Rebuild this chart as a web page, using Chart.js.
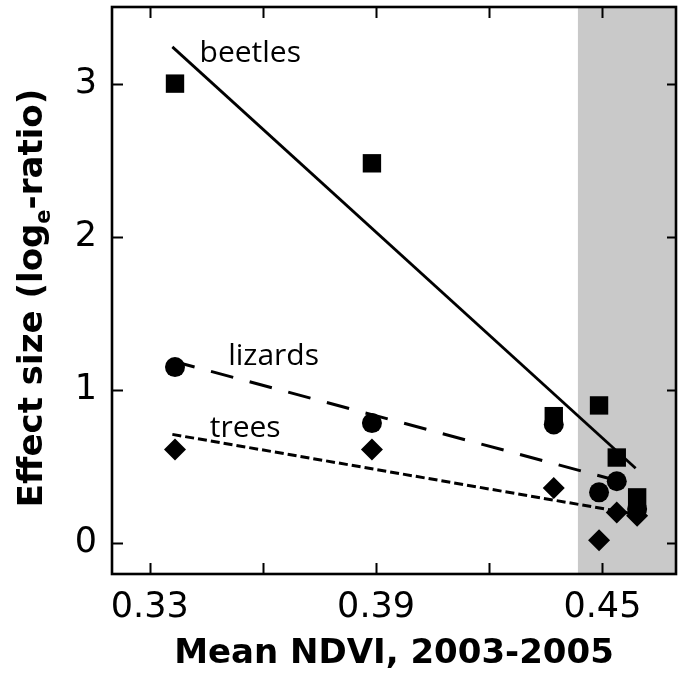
<!DOCTYPE html>
<html><head><meta charset="utf-8">
<script src="https://cdn.jsdelivr.net/npm/chart.js@4.4.1/dist/chart.umd.min.js"></script>
<style>html,body{margin:0;padding:0;background:#fff;}#wrap{width:682px;height:675px;}</style>
</head><body><div id="wrap"><canvas id="c" width="682" height="675"></canvas></div>
<script>
// ---- data ----
const ndvi = [0.3367, 0.3889, 0.4371, 0.4491, 0.4538, 0.4592];
const beetles = [3.00, 2.48, 0.83, 0.90, 0.56, 0.30];
const lizards = [1.15, 0.785, 0.776, 0.333, 0.405, 0.224];
const trees = [0.613, 0.613, 0.362, 0.021, 0.202, 0.18];
const fitX = [0.336, 0.4588];
const beetlesFit = [3.24, 0.49];
const lizardsFit = [1.19, 0.377];
const treesFit = [0.711, 0.19];
const xTicks = [0.33, 0.36, 0.39, 0.42, 0.45];
const xTickLabels = ['0.33', '', '0.39', '', '0.45'];
const yTicks = [0, 1, 2, 3];
const yTickLabels = ['0', '1', '2', '3'];
const shadeFrom = 0.4435;
const taxa = ['beetles', 'lizards', 'trees'];

const pts = (xs, ys) => xs.map((x, i) => ({x: x, y: ys[i]}));
const TICKFONT = 'DejaVu Sans';

const deco = {
  id: 'deco',
  beforeDatasetsDraw(chart) {
    const {ctx, chartArea: a, scales: {x}} = chart;
    ctx.save();
    ctx.fillStyle = '#c9c9c9';
    const px = x.getPixelForValue(shadeFrom);
    ctx.fillRect(px, a.top, a.right - px, a.bottom - a.top);
    ctx.restore();
  },
  afterDatasetsDraw(chart) {
    const {ctx, chartArea: a, scales: {x, y}} = chart;
    ctx.save();
    ctx.strokeStyle = '#000';
    ctx.lineWidth = 2;
    ctx.beginPath();
    xTicks.forEach(v => {
      const p = Math.round(x.getPixelForValue(v)) + 0.5;
      ctx.moveTo(p, a.bottom); ctx.lineTo(p, a.bottom - 11);
      ctx.moveTo(p, a.top); ctx.lineTo(p, a.top + 11);
    });
    yTicks.forEach(v => {
      const p = Math.round(y.getPixelForValue(v)) + 0.5;
      ctx.moveTo(a.left, p); ctx.lineTo(a.left + 11, p);
      ctx.moveTo(a.right, p); ctx.lineTo(a.right - 9, p);
    });
    ctx.stroke();
    ctx.lineWidth = 2.6;
    ctx.strokeRect(a.left, a.top, a.right - a.left, a.bottom - a.top);
    // taxon labels
    ctx.fillStyle = '#000';
    ctx.font = '30px "Open Sans"';
    ctx.textBaseline = 'alphabetic';
    ctx.textAlign = 'left';
    const lab = [[taxa[0], 0.3432, 3.142], [taxa[1], 0.3508, 1.163], [taxa[2], 0.3459, 0.693]];
    lab.forEach(l => ctx.fillText(l[0], x.getPixelForValue(l[1]), y.getPixelForValue(l[2])));
    ctx.restore();
  },
  afterDraw(chart) {
    const {ctx} = chart;
    ctx.save();
    ctx.fillStyle = '#000';
    ctx.translate(42, 298);
    ctx.rotate(-Math.PI / 2);
    ctx.textBaseline = 'alphabetic';
    ctx.textAlign = 'left';
    const big = 'bold 34px "DejaVu Sans"', small = 'bold 21px "DejaVu Sans"';
    const parts = [['Effect size (log', big, 0], ['e', small, 8], ['-ratio)', big, 0]];
    let total = 0;
    parts.forEach(p => { ctx.font = p[1]; p.push(ctx.measureText(p[0]).width); total += p[3]; });
    let cx = -total / 2;
    parts.forEach(p => { ctx.font = p[1]; ctx.fillText(p[0], cx, p[2]); cx += p[3]; });
    ctx.restore();
  }
};

new Chart(document.getElementById('c'), {
  data: {
    datasets: [
      {type: 'scatter', label: 'beetles', data: pts(ndvi, beetles), pointStyle: 'rect', pointRadius: 13, backgroundColor: '#000', borderColor: '#000', borderWidth: 0, order: 1},
      {type: 'scatter', label: 'lizards', data: pts(ndvi, lizards), pointStyle: 'circle', pointRadius: 10, backgroundColor: '#000', borderColor: '#000', borderWidth: 0, order: 1},
      {type: 'scatter', label: 'trees', data: pts(ndvi, trees), pointStyle: 'rectRot', pointRadius: 11, backgroundColor: '#000', borderColor: '#000', borderWidth: 0, order: 1},
      {type: 'line', label: 'beetles fit', data: pts(fitX, beetlesFit), borderColor: '#000', borderWidth: 2.8, pointRadius: 0, fill: false, order: 2},
      {type: 'line', label: 'lizards fit', data: pts(fitX, lizardsFit), borderColor: '#000', borderWidth: 3, borderDash: [23, 17], pointRadius: 0, fill: false, order: 2},
      {type: 'line', label: 'trees fit', data: pts(fitX, treesFit), borderColor: '#000', borderWidth: 3, borderDash: [9, 4], pointRadius: 0, fill: false, order: 2}
    ]
  },
  options: {
    responsive: false,
    animation: false,
    devicePixelRatio: 1,
    layout: {autoPadding: false, padding: {top: 7, right: 6, left: 0, bottom: 0}},
    plugins: {legend: {display: false}, tooltip: {enabled: false}},
    scales: {
      x: {
        type: 'linear', min: 0.32, max: 0.4695,
        afterBuildTicks: s => { s.ticks = xTicks.map(v => ({value: v})); },
        afterFit: s => { s.height = 101; s.paddingLeft = 0; s.paddingRight = 0; },
        ticks: {
          autoSkip: false, maxRotation: 0, minRotation: 0, padding: 13, color: '#000',
          font: {family: TICKFONT, size: 35},
          callback: (v, i) => xTickLabels[i]
        },
        grid: {display: false, drawTicks: false, tickLength: 0},
        border: {display: false},
        title: {display: true, text: 'Mean NDVI, 2003-2005', color: '#000', font: {family: 'DejaVu Sans', size: 34, weight: 'bold'}, padding: {top: 0, bottom: 0}}
      },
      y: {
        type: 'linear', min: -0.2, max: 3.5,
        afterBuildTicks: s => { s.ticks = yTicks.map(v => ({value: v})); },
        afterFit: s => { s.width = 112; s.paddingTop = 0; s.paddingBottom = 0; },
        ticks: {
          autoSkip: false, padding: 15, color: '#000',
          font: {family: TICKFONT, size: 35},
          callback: (v, i) => yTickLabels[i]
        },
        grid: {display: false, drawTicks: false, tickLength: 0},
        border: {display: false}
      }
    }
  },
  plugins: [deco]
});
</script></body></html>
